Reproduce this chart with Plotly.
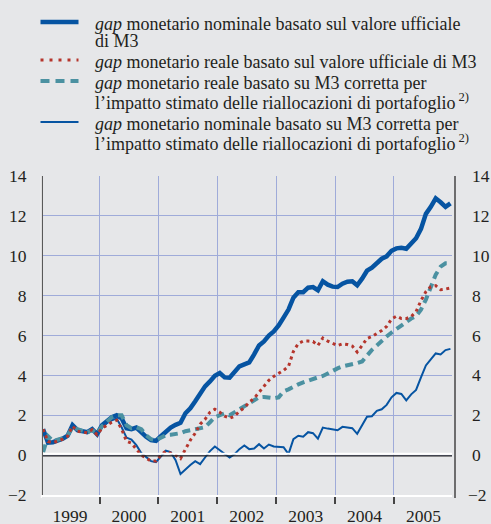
import plotly.graph_objects as go

# ---- data (monthly, Jan 1999 - Dec 2005) ----
years = [1999, 2000, 2001, 2002, 2003, 2004, 2005]
year_labels = ["1999", "2000", "2001", "2002", "2003", "2004", "2005"]

nominal_official = [
    1.3, 0.63, 0.65, 0.72, 0.82, 0.97, 1.5, 1.25, 1.2, 1.15, 1.3, 1.05,
    1.5, 1.72, 1.9, 2.0, 1.85, 1.35, 1.3, 1.38, 1.13, 0.92, 0.75, 0.72,
    0.95, 1.17, 1.38, 1.52, 1.62, 2.1, 2.35, 2.7, 3.1, 3.45, 3.7, 3.98,
    4.12, 3.9, 3.88, 4.15, 4.45, 4.55, 4.65, 5.05, 5.5, 5.7, 6.0, 6.2,
    6.5, 6.9, 7.3, 7.9, 8.17, 8.17, 8.4, 8.43, 8.27, 8.72, 8.55, 8.45,
    8.43, 8.6, 8.7, 8.72, 8.52, 8.85, 9.25, 9.4, 9.65, 9.85, 9.97, 10.25,
    10.37, 10.4, 10.35, 10.63, 10.88, 11.35, 12.1, 12.45, 12.88, 12.68, 12.45, 12.63,
]

real_official = [
    1.3, 0.68, 0.62, 0.7, 0.8, 0.95, 1.45, 1.2, 1.15, 1.12, 1.28, 1.02,
    1.35, 1.5, 1.65, 1.75, 1.3, 0.7, 0.6, 0.3, 0.0, -0.15, -0.3, -0.3,
    0.0, 0.2, 0.1, 0.0, -0.17, 0.3, 0.75, 1.1, 1.55, 1.8, 2.15, 2.3,
    2.15, 1.95, 1.85, 1.95, 2.2, 2.38, 2.65, 2.85, 3.15, 3.5, 3.75, 3.95,
    4.1, 4.25, 4.45, 5.2, 5.6, 5.72, 5.72, 5.7, 5.5, 5.87, 5.72, 5.6,
    5.5, 5.58, 5.55, 5.47, 5.17, 5.5, 5.85, 5.95, 6.1, 6.25, 6.45, 6.83,
    6.97, 6.85, 6.85, 6.95, 7.2, 7.75, 8.2, 8.45, 8.5, 8.3, 8.33, 8.38,
]

real_corrected = [
    0.15, 0.95, 0.7, 0.75, 0.85, 1.0, 1.4, 1.3, 1.2, 1.15, 1.25, 1.1,
    1.45, 1.7, 1.9, 2.0, 2.0, 1.5, 1.35, 1.4, 1.3, 1.0, 0.8, 0.75,
    0.85, 1.0, 1.02, 1.05, 1.1, 1.2, 1.25, 1.3, 1.33, 1.4, 1.65, 1.9,
    2.0, 2.1, 2.0, 2.15, 2.3, 2.45, 2.6, 2.75, 2.9, 2.92, 2.9, 2.85,
    2.9, 3.2, 3.3, 3.45, 3.55, 3.65, 3.75, 3.8, 3.9, 3.97, 4.1, 4.25,
    4.35, 4.45, 4.5, 4.55, 4.62, 4.7, 5.0, 5.28, 5.5, 5.75, 5.95, 6.15,
    6.33, 6.48, 6.67, 6.85, 6.97, 7.3, 7.8, 8.5, 9.05, 9.45, 9.62, 9.62,
]

nominal_corrected = [
    1.3, 0.63, 0.65, 0.72, 0.82, 0.97, 1.5, 1.25, 1.2, 1.15, 1.3, 1.05,
    1.4, 1.6, 1.75, 1.83, 1.4, 0.88, 0.78, 0.5, 0.1, -0.08, -0.3, -0.35,
    -0.05, 0.22, 0.15, -0.25, -0.95, -0.7, -0.5, -0.3, -0.45, -0.12, 0.2, 0.43,
    0.25, 0.05, -0.12, 0.05, 0.3, 0.48, 0.3, 0.33, 0.55, 0.33, 0.53, 0.43,
    0.43, 0.4, 0.05, 0.8, 0.97, 0.92, 1.15, 1.1, 0.83, 1.38, 1.33, 1.3,
    1.25, 1.42, 1.4, 1.35, 1.07, 1.5, 1.93, 1.95, 2.22, 2.3, 2.52, 2.9,
    3.12, 3.07, 2.75, 3.05, 3.27, 3.9, 4.5, 4.8, 5.1, 5.05, 5.27, 5.33,
]

legend_texts = [
    ["<i>gap</i> monetario nominale basato sul valore ufficiale", "di M3"],
    ["<i>gap</i> monetario reale basato sul valore ufficiale di M3"],
    ["<i>gap</i> monetario reale basato su M3 corretta per",
     "l\u2019impatto stimato delle riallocazioni di portafoglio<sup> 2)</sup>"],
    ["<i>gap</i> monetario nominale basato su M3 corretta per",
     "l\u2019impatto stimato delle riallocazioni di portafoglio<sup> 2)</sup>"],
]

y_ticks = [-2, 0, 2, 4, 6, 8, 10, 12, 14]
y_tick_labels = ["\u22122", "0", "2", "4", "6", "8", "10", "12", "14"]

# monthly positions in fractional years (mid-month)
n = len(nominal_official)
x = [years[0] + (i + 0.5) / 12 for i in range(n)]

BLUE = "#0654a2"
RED = "#b5352c"
TEAL = "#4b91a1"
GRID = "#9fabd9"
BG = "#e6e7e9"
TXT = "#231f20"
FONT = "Liberation Serif"

W, H = 491, 524
ML, MR, MT, MB = 43, 39, 176, 29
PH = H - MT - MB


def py(p):  # pixel row -> paper y
    return (H - MB - p) / PH


def px(p):  # pixel col -> paper x
    return (p - ML) / (W - ML - MR)


styles = [
    dict(color=BLUE, width=4.5),
    dict(color=RED, width=3, dash="3px,3.6px"),
    dict(color=TEAL, width=4, dash="8px,5px"),
    dict(color=BLUE, width=2),
]
legend_dash = [None, "3px,6px", "9px,6px", None]
series = [nominal_official, real_official, real_corrected, nominal_corrected]

fig = go.Figure()
for idx in [0, 3, 2, 1]:
    fig.add_trace(go.Scatter(x=x, y=series[idx], mode="lines",
                             name=legend_texts[idx][0], line=styles[idx],
                             showlegend=False))

# manual legend (tight leading like the original)
row_baselines = [[28, 45], [66], [87, 105], [128, 146]]
annotations = []
shapes = []
legend_fs = 18
for k, texts in enumerate(legend_texts):
    for j, t in enumerate(texts):
        annotations.append(dict(
            xref="paper", yref="paper", x=px(93), y=py(row_baselines[k][j] - 4),
            xanchor="left", yanchor="middle", showarrow=False, text=t,
            font=dict(family=FONT, size=legend_fs, color=TXT)))
    sy = py(row_baselines[k][0] - 6)
    st = styles[k]
    shapes.append(dict(type="line", xref="paper", yref="paper",
                       x0=px(40.5), x1=px(78.5), y0=sy, y1=sy,
                       line=dict(color=st["color"], width=st["width"],
                                 dash=legend_dash[k] or "solid")))

# right-hand tick labels (mirror of the left axis)
for v, lab in zip(y_ticks, y_tick_labels):
    annotations.append(dict(
        xref="paper", yref="y", x=px(470 if v >= 0 else 466), y=v,
        xanchor="left", yanchor="middle", showarrow=False, text=lab,
        font=dict(family=FONT, size=17.5, color=TXT)))

shapes += [
    dict(type="line", xref="paper", yref="y", x0=0, x1=1, y0=0.07, y1=0.07,
         line=dict(color="white", width=2)),
    dict(type="line", xref="paper", yref="y", x0=0, x1=1, y0=-0.04, y1=-0.04,
         line=dict(color="#222", width=1.3)),
    dict(type="line", xref="paper", yref="paper", x0=px(455), x1=px(455), y0=py(498), y1=1.0,
         line=dict(color="#444", width=1.5)),
    dict(type="line", xref="paper", yref="paper", x0=px(41.3), x1=px(41.3), y0=py(498), y1=1.0,
         line=dict(color="white", width=1)),
]

fig.update_layout(
    width=W, height=H,
    paper_bgcolor=BG, plot_bgcolor=BG,
    margin=dict(l=ML, r=MR, t=MT, b=MB),
    font=dict(family=FONT, size=17.5, color=TXT),
    showlegend=False,
    xaxis=dict(
        range=[1999.04, 2005.985], automargin=False,
        tickmode="array",
        tickvals=[yv + 0.5 for yv in years],
        ticktext=year_labels,
        ticks="outside", ticklen=4, tickcolor="rgba(0,0,0,0)",
        showgrid=False, zeroline=False,
        showline=True, linecolor="white", linewidth=2,
        minor=dict(tickmode="array", tickvals=years[1:],
                   showgrid=True, gridcolor=GRID, gridwidth=1,
                   ticks="outside", ticklen=7, tickcolor="#444", tickwidth=1.5),
        tickfont=dict(family=FONT, size=17.5, color=TXT),
    ),
    yaxis=dict(
        range=[-2, 14], tickmode="array", tickvals=y_ticks, ticktext=y_tick_labels,
        automargin=False,
        showgrid=True, gridcolor=GRID, gridwidth=1,
        zeroline=False,
        showline=True, linecolor="#5a5a5a", linewidth=2,
        ticks="outside", ticklen=11, tickcolor="rgba(0,0,0,0)",
        tickfont=dict(family=FONT, size=17.5, color=TXT),
    ),
    shapes=shapes,
    annotations=annotations,
)

fig.write_html("out.html", config={"displayModeBar": False},
               post_script="document.body.style.margin='0';document.body.style.padding='0';")
